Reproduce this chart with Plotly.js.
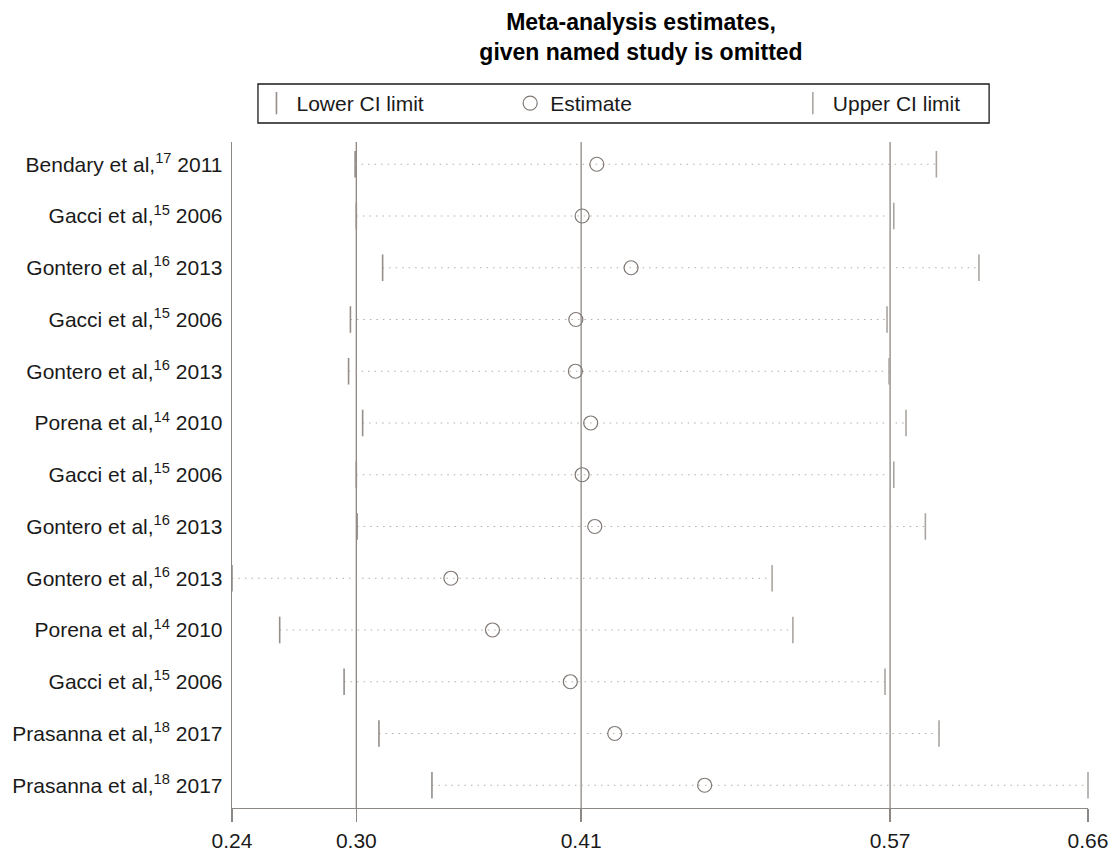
<!DOCTYPE html>
<html>
<head>
<meta charset="utf-8">
<script src="https://cdn.plot.ly/plotly-3.0.1.min.js"></script>
<style>
  html, body { margin: 0; padding: 0; background: #ffffff; }
  #chart { width: 1112px; height: 850px; }
</style>
</head>
<body>
<div id="chart"></div>
<script>
// ---- data ----
var studyLabels = [
  "Bendary et al,<sup>17</sup> 2011",
  "Gacci et al,<sup>15</sup> 2006",
  "Gontero et al,<sup>16</sup> 2013",
  "Gacci et al,<sup>15</sup> 2006",
  "Gontero et al,<sup>16</sup> 2013",
  "Porena et al,<sup>14</sup> 2010",
  "Gacci et al,<sup>15</sup> 2006",
  "Gontero et al,<sup>16</sup> 2013",
  "Gontero et al,<sup>16</sup> 2013",
  "Porena et al,<sup>14</sup> 2010",
  "Gacci et al,<sup>15</sup> 2006",
  "Prasanna et al,<sup>18</sup> 2017",
  "Prasanna et al,<sup>18</sup> 2017"
];
var lowerCI  = [0.3004, 0.3010, 0.3139, 0.2981, 0.2972, 0.3041, 0.3010, 0.3014, 0.2400, 0.2634, 0.2950, 0.3121, 0.3381];
var estimate = [0.4190, 0.4118, 0.4358, 0.4087, 0.4085, 0.4160, 0.4118, 0.4180, 0.3474, 0.3678, 0.4060, 0.4278, 0.4719];
var upperCI  = [0.5856, 0.5647, 0.6065, 0.5614, 0.5624, 0.5707, 0.5647, 0.5802, 0.5050, 0.5152, 0.5604, 0.5869, 0.6600];
var overall  = [0.3010, 0.4113, 0.5629];           // overall lower CI, estimate, upper CI
var xTickVals = [0.24, 0.3010, 0.4113, 0.5629, 0.66];
var xTickText = ["0.24", "0.30", "0.41", "0.57", "0.66"];
var titleText = "<b>Meta-analysis estimates,<br>given named study is omitted</b>";

// ---- build ----
var rows = studyLabels.map(function (_, i) { return i + 1; });
var segX = [], segY = [];
for (var i = 0; i < rows.length; i++) {
  segX.push(lowerCI[i], upperCI[i], null);
  segY.push(rows[i], rows[i], null);
}

var FONT = "Liberation Sans, Arial, Helvetica, sans-serif";
var AXC = "#8e8884";

var traces = [
  { type: "scatter", mode: "lines", x: segX, y: segY, showlegend: false, hoverinfo: "skip",
    line: { color: "#b4afab", width: 1.2, dash: "1.5px,5px" } },
  { type: "scatter", mode: "markers", name: "Lower CI limit", x: lowerCI, y: rows, cliponaxis: false,
    legend: "legend",
    marker: { symbol: "line-ns", size: 19, line: { color: "#958e89", width: 1.6 } } },
  { type: "scatter", mode: "markers", name: "Estimate", x: estimate, y: rows, cliponaxis: false,
    legend: "legend2",
    marker: { symbol: "circle-open", size: 14, color: "#7f7874", line: { color: "#7f7874", width: 1.2 } } },
  { type: "scatter", mode: "markers", name: "Upper CI limit", x: upperCI, y: rows, cliponaxis: false,
    legend: "legend3",
    marker: { symbol: "line-ns", size: 19, line: { color: "#aaa5a1", width: 1.6 } } }
];

var shapes = overall.map(function (v) {
  return { type: "line", xref: "x", yref: "paper", x0: v, x1: v, y0: 0, y1: 1,
           line: { color: AXC, width: 1.3 }, layer: "below" };
});
// legend frame
shapes.push({ type: "rect", xref: "paper", yref: "paper",
  x0: (257.5 - 231.5) / 857, x1: (989.5 - 231.5) / 857,
  y0: (808 - 123) / 666, y1: (808 - 84) / 666,
  line: { color: "#1a1a1a", width: 1.3 }, fillcolor: "rgba(0,0,0,0)" });

function leg(px) {
  return { x: (px - 231.5) / 857, xanchor: "left", y: (808 - 103.5) / 666, yanchor: "middle",
           orientation: "h", bgcolor: "rgba(0,0,0,0)", borderwidth: 0,
           font: { family: FONT, size: 21, color: "#1a1a1a" } };
}

var layout = {
  width: 1112, height: 850,
  margin: { l: 231.5, r: 23.5, t: 142, b: 42 },
  paper_bgcolor: "#ffffff", plot_bgcolor: "#ffffff",
  font: { family: FONT, size: 21, color: "#1a1a1a" },
  title: { text: titleText, font: { family: FONT, size: 23, color: "#000000" },
           x: 641 / 1112, xanchor: "center", xref: "container",
           y: 1 - 30 / 850, yanchor: "top", yref: "container" },
  xaxis: {
    range: [0.24, 0.66], fixedrange: true,
    tickmode: "array", tickvals: xTickVals, ticktext: xTickText,
    ticks: "outside", ticklen: 13, tickwidth: 1.3, tickcolor: AXC,
    showgrid: false, zeroline: false,
    showline: true, linecolor: AXC, linewidth: 1.3,
    tickfont: { family: FONT, size: 21, color: "#1a1a1a" }
  },
  yaxis: {
    range: [13.44, 0.57], fixedrange: true,
    tickmode: "array", tickvals: rows, ticktext: studyLabels,
    ticks: "", showgrid: false, zeroline: false,
    showline: true, linecolor: AXC, linewidth: 1.3,
    ticklabelstandoff: 4,
    tickfont: { family: FONT, size: 21, color: "#1a1a1a" }
  },
  shapes: shapes,
  showlegend: true,
  legend: leg(296 - 40),
  legend2: leg(550 - 40),
  legend3: leg(833 - 40)
};

Plotly.newPlot("chart", traces, layout, { displayModeBar: false, staticPlot: true });
</script>
</body>
</html>
